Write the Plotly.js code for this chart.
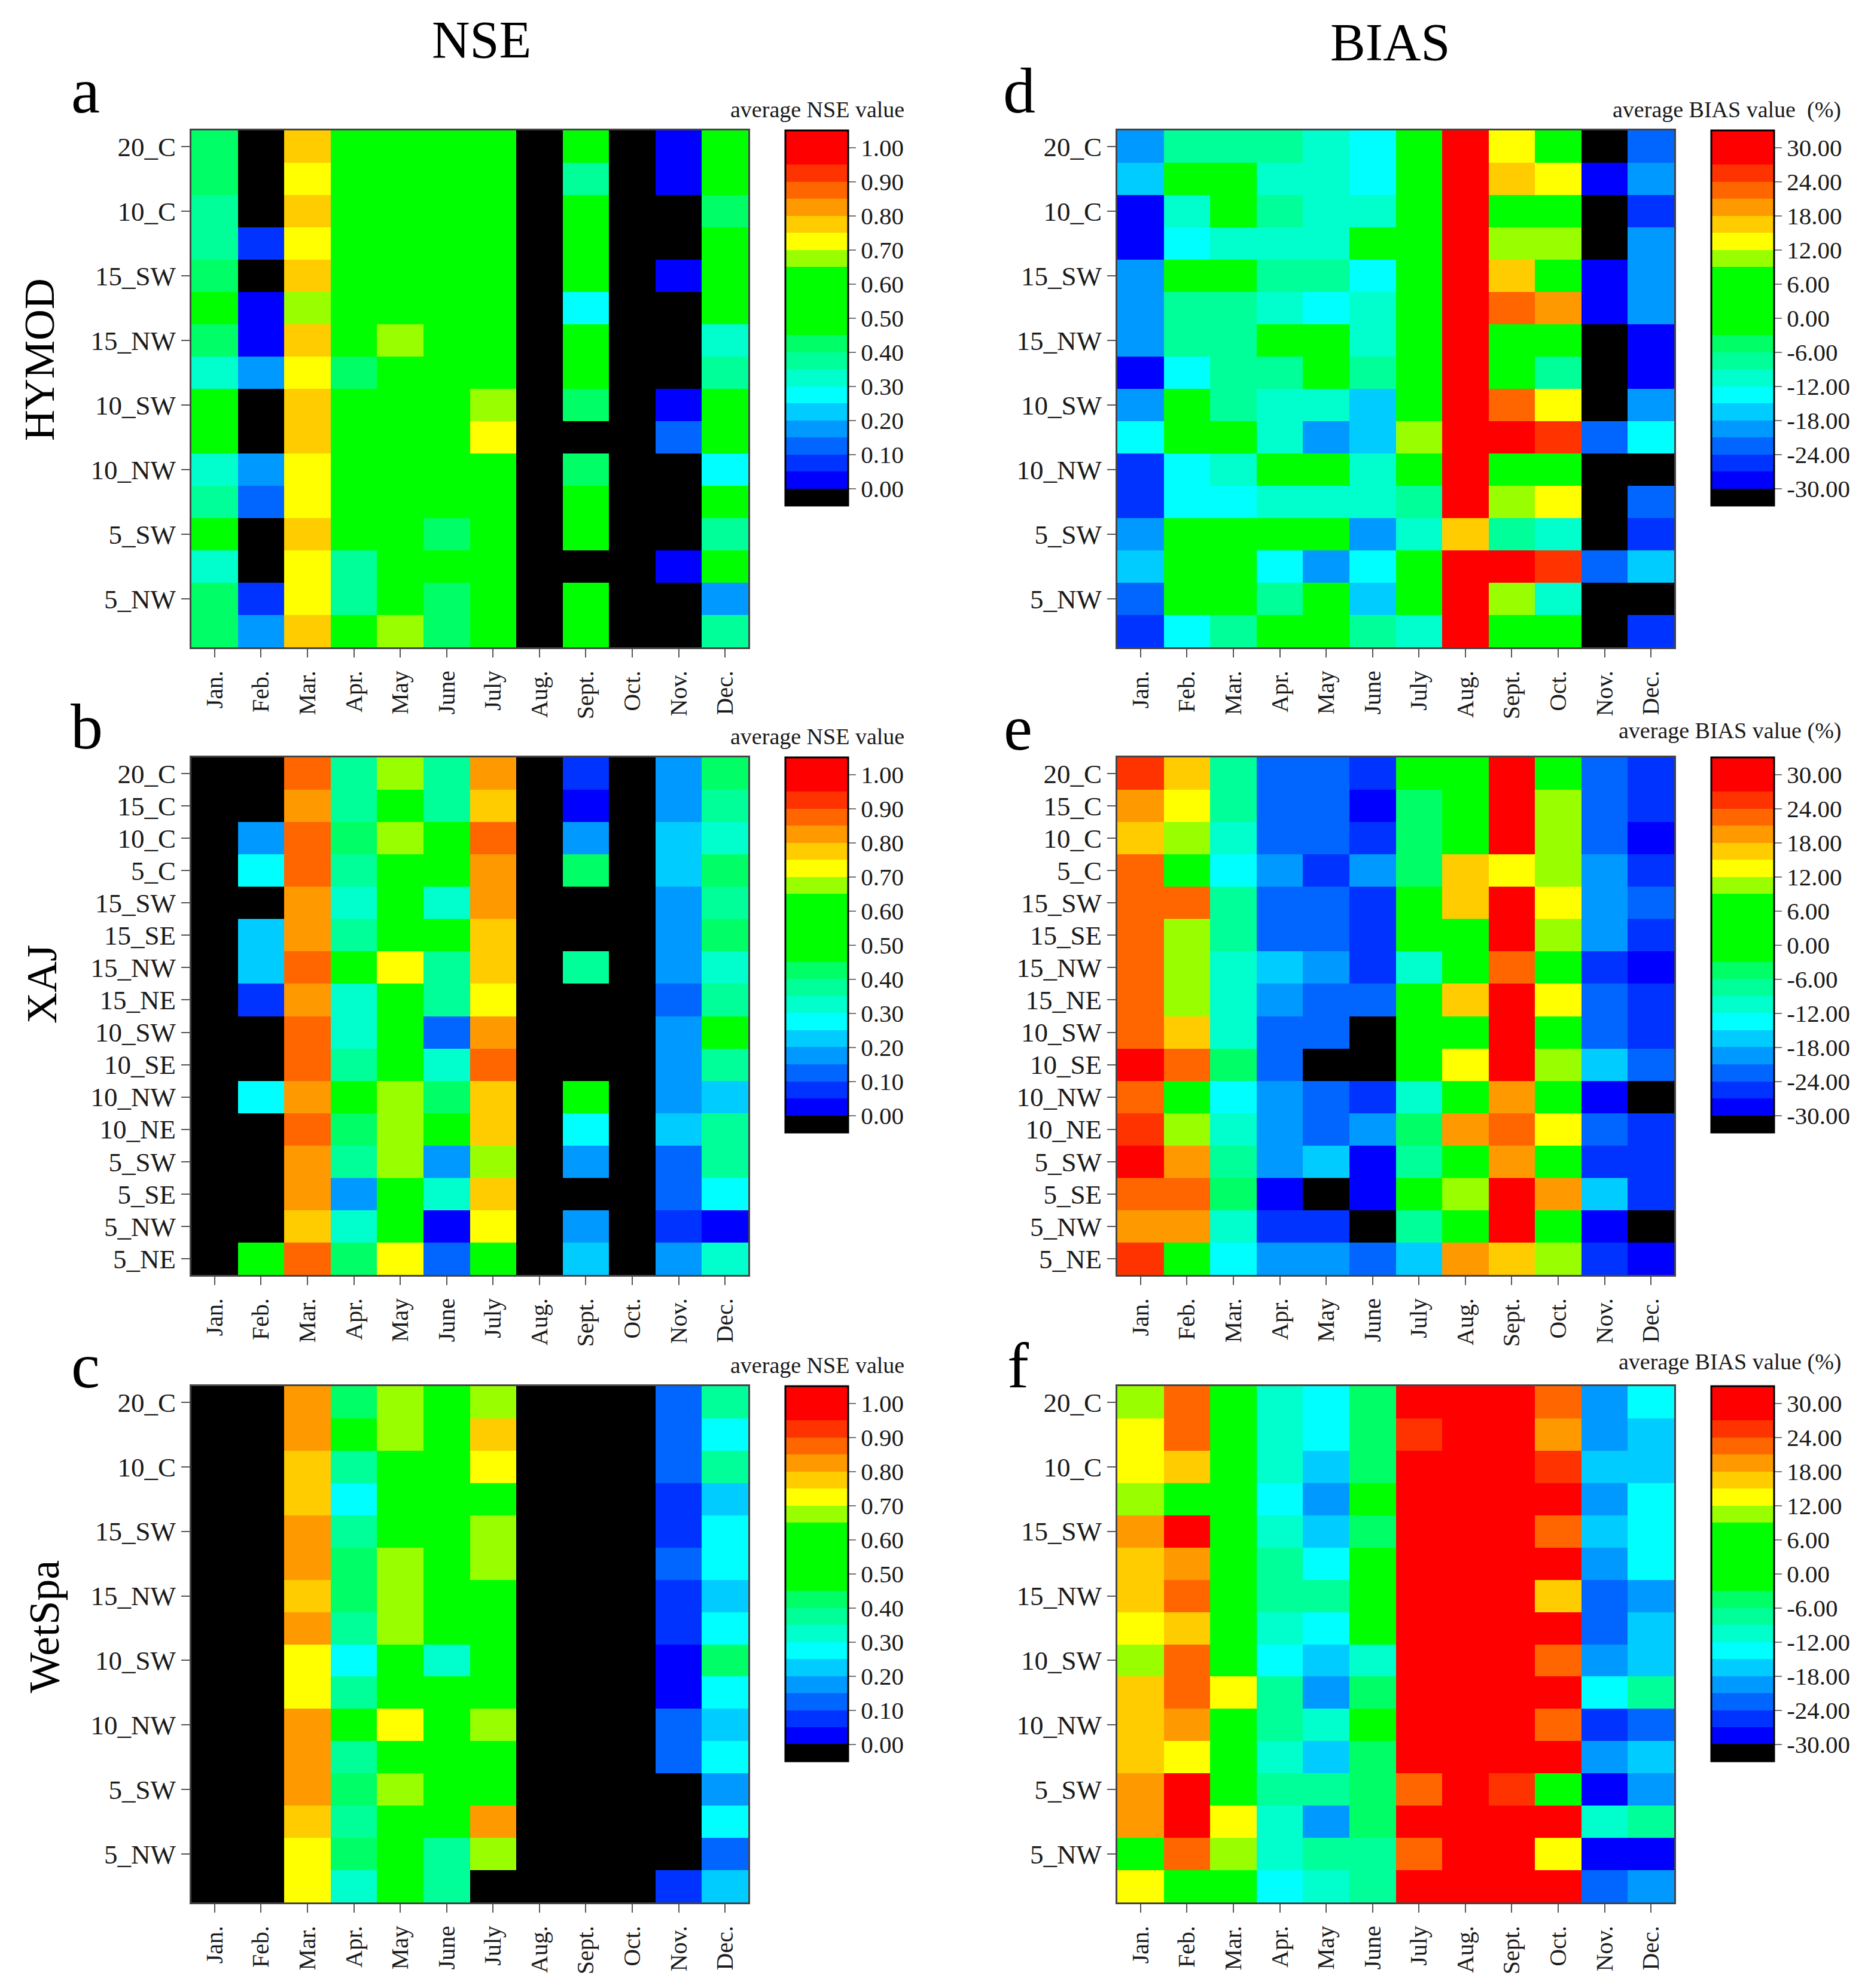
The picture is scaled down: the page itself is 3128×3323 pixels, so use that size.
<!DOCTYPE html>
<html><head><meta charset="utf-8">
<script src="https://cdn.plot.ly/plotly-3.0.1.min.js"></script>
<style>html,body{margin:0;padding:0;background:#fff}</style></head>
<body><div id="chart" style="width:3128px;height:3323px"></div>
<script>
const months = ['Jan.','Feb.','Mar.','Apr.','May','June','July','Aug.','Sept.','Oct.','Nov.','Dec.'];
const scenarios = ['20_C','15_C','10_C','5_C','15_SW','15_SE','15_NW','15_NE','10_SW','10_SE','10_NW','10_NE','5_SW','5_SE','5_NW','5_NE'];
const nseTicks = [0,0.1,0.2,0.3,0.4,0.5,0.6,0.7,0.8,0.9,1.0];
const biasTicks = [-30,-24,-18,-12,-6,0,6,12,18,24,30];

// one inner list per month, top row (20_C) to bottom row (5_NE)
const nseHymod = [
[.43,.43,.38,.38,.43,.55,.43,.33,.55,.55,.33,.38,.55,.33,.43,.43],
[-.02,-.02,-.02,.08,-.02,.03,.03,.18,-.02,-.02,.18,.13,-.02,-.02,.08,.18],
[.78,.73,.78,.73,.78,.68,.78,.73,.78,.78,.73,.73,.78,.73,.73,.78],
[.55,.55,.55,.55,.55,.55,.55,.43,.55,.55,.55,.55,.55,.38,.38,.55],
[.55,.55,.55,.55,.55,.55,.68,.55,.55,.55,.55,.55,.55,.55,.55,.68],
[.55,.55,.55,.55,.55,.55,.55,.55,.55,.55,.55,.55,.43,.55,.43,.43],
[.55,.55,.55,.55,.55,.55,.55,.55,.68,.73,.55,.55,.55,.55,.55,.55],
[-.02,-.02,-.02,-.02,-.02,-.02,-.02,-.02,-.02,-.02,-.02,-.02,-.02,-.02,-.02,-.02],
[.55,.38,.55,.55,.55,.28,.55,.55,.43,-.02,.43,.55,.55,-.02,.55,.55],
[-.02,-.02,-.02,-.02,-.02,-.02,-.02,-.02,-.02,-.02,-.02,-.02,-.02,-.02,-.02,-.02],
[.03,.03,-.02,-.02,.03,-.02,-.02,-.02,.03,.13,-.02,-.02,-.02,.03,-.02,-.02],
[.55,.55,.43,.55,.55,.55,.33,.38,.55,.55,.28,.55,.38,.55,.18,.38]];

const nseXaj = [
[-.02,-.02,-.02,-.02,-.02,-.02,-.02,-.02,-.02,-.02,-.02,-.02,-.02,-.02,-.02,-.02],
[-.02,-.02,.18,.28,-.02,.23,.23,.08,-.02,-.02,.28,-.02,-.02,-.02,-.02,.55],
[.88,.83,.88,.88,.83,.83,.88,.83,.88,.88,.83,.88,.83,.83,.78,.88],
[.38,.38,.43,.38,.33,.38,.55,.33,.33,.38,.55,.43,.38,.18,.33,.43],
[.68,.55,.68,.55,.55,.55,.73,.55,.55,.55,.68,.68,.68,.55,.55,.73],
[.38,.38,.55,.55,.33,.55,.38,.38,.13,.33,.43,.55,.18,.33,.03,.13],
[.83,.78,.88,.83,.83,.78,.78,.73,.83,.88,.78,.78,.68,.78,.73,.55],
[-.02,-.02,-.02,-.02,-.02,-.02,-.02,-.02,-.02,-.02,-.02,-.02,-.02,-.02,-.02,-.02],
[.08,.03,.18,.43,-.02,-.02,.38,-.02,-.02,-.02,.55,.28,.18,-.02,.18,.23],
[-.02,-.02,-.02,-.02,-.02,-.02,-.02,-.02,-.02,-.02,-.02,-.02,-.02,-.02,-.02,-.02],
[.18,.18,.23,.23,.18,.18,.18,.13,.18,.18,.18,.23,.13,.13,.08,.18],
[.43,.38,.33,.43,.38,.43,.33,.38,.55,.38,.23,.38,.38,.28,.03,.33]];

const nseWetspa = [
[-.02,-.02,-.02,-.02,-.02,-.02,-.02,-.02,-.02,-.02,-.02,-.02,-.02,-.02,-.02,-.02],
[-.02,-.02,-.02,-.02,-.02,-.02,-.02,-.02,-.02,-.02,-.02,-.02,-.02,-.02,-.02,-.02],
[.83,.83,.78,.78,.83,.83,.78,.83,.73,.73,.83,.83,.83,.78,.73,.73],
[.43,.55,.38,.28,.38,.43,.43,.38,.28,.38,.55,.38,.43,.38,.43,.33],
[.68,.68,.55,.55,.55,.68,.68,.68,.55,.55,.73,.55,.68,.55,.55,.55],
[.55,.55,.55,.55,.55,.55,.55,.55,.33,.55,.55,.55,.55,.55,.38,.38],
[.68,.78,.73,.55,.68,.68,.55,.55,.55,.55,.68,.55,.55,.83,.68,-.02],
[-.02,-.02,-.02,-.02,-.02,-.02,-.02,-.02,-.02,-.02,-.02,-.02,-.02,-.02,-.02,-.02],
[-.02,-.02,-.02,-.02,-.02,-.02,-.02,-.02,-.02,-.02,-.02,-.02,-.02,-.02,-.02,-.02],
[-.02,-.02,-.02,-.02,-.02,-.02,-.02,-.02,-.02,-.02,-.02,-.02,-.02,-.02,-.02,-.02],
[.13,.13,.13,.08,.08,.13,.08,.08,.03,.03,.13,.13,-.02,-.02,-.02,.08],
[.38,.28,.38,.23,.28,.28,.23,.28,.43,.28,.23,.28,.18,.28,.13,.23]];

const biasHymod = [
[-19,-16,-28,-28,-19,-19,-19,-28,-19,-13,-25,-25,-19,-16,-22,-25],
[-7,3,-10,-13,3,-7,-7,-13,3,3,-13,-13,3,3,3,-13],
[-7,3,3,-10,3,-7,-7,-7,-7,3,-10,-13,3,3,3,-7],
[-7,-10,-7,-10,-7,-10,3,-7,-10,-10,3,-10,3,-13,-7,3],
[-10,-10,-10,-10,-7,-13,3,3,-10,-19,3,-10,3,-19,3,3],
[-13,-13,-10,3,-13,-10,-10,-7,-16,-16,-10,-10,-19,-13,-16,-7],
[3,3,3,3,3,3,3,3,3,11,3,-7,-10,3,3,-10],
[31,31,31,31,31,31,31,31,31,31,31,31,17,31,31,31],
[14,17,3,11,17,23,3,3,23,31,3,11,-7,31,11,3],
[3,14,3,11,3,20,3,-7,14,26,3,14,-10,26,-10,3],
[-32,-28,-32,-32,-28,-28,-32,-32,-32,-22,-32,-32,-32,-22,-32,-32],
[-22,-19,-25,-19,-19,-19,-28,-28,-19,-13,-32,-22,-25,-16,-32,-25]];

const biasXaj = [
[26,20,17,23,23,23,23,23,23,31,23,26,31,23,20,26],
[17,14,11,3,23,11,11,11,17,23,3,11,20,23,20,3],
[-7,-7,-10,-13,-7,-7,-10,-10,-10,-4,-13,-10,-7,-4,-10,-13],
[-22,-22,-22,-19,-22,-22,-16,-19,-22,-22,-19,-19,-19,-28,-25,-19],
[-22,-22,-22,-25,-22,-22,-19,-22,-22,-32,-22,-22,-16,-32,-25,-19],
[-25,-28,-25,-19,-25,-25,-25,-22,-32,-32,-25,-19,-28,-28,-32,-22],
[3,-4,-4,-4,3,3,-10,3,3,3,-10,-4,-7,3,-7,-16],
[3,3,3,17,17,3,3,17,3,14,3,20,3,11,3,20],
[31,31,31,14,31,31,23,31,31,31,20,23,20,31,31,17],
[3,11,11,11,14,11,3,14,3,11,3,14,3,20,3,11],
[-22,-22,-22,-19,-19,-19,-25,-22,-22,-16,-28,-22,-25,-16,-28,-25],
[-25,-25,-28,-25,-22,-25,-28,-25,-25,-22,-32,-25,-25,-25,-32,-28]];

const biasWetspa = [
[11,14,14,11,20,17,17,14,11,17,17,17,20,20,3,14],
[23,23,17,3,31,20,23,17,23,23,20,14,31,31,23,3],
[3,3,3,3,3,3,3,3,3,14,3,3,3,14,11,3],
[-10,-10,-10,-13,-10,-7,-7,-10,-13,-7,-7,-10,-7,-10,-10,-13],
[-13,-13,-16,-19,-16,-13,-7,-13,-16,-19,-10,-16,-7,-19,-7,-10],
[-4,-4,-4,3,-4,3,3,3,-10,-4,3,-4,-4,-4,-7,-7],
[31,26,31,31,31,31,31,31,31,31,31,31,23,31,23,31],
[31,31,31,31,31,31,31,31,31,31,31,31,31,31,31,31],
[31,31,31,31,31,31,31,31,31,31,31,31,26,31,31,31],
[23,20,26,31,23,31,17,31,23,31,23,31,3,31,14,31],
[-19,-19,-16,-19,-16,-19,-22,-22,-19,-13,-25,-19,-28,-10,-28,-22],
[-13,-16,-16,-13,-13,-13,-19,-16,-16,-7,-22,-16,-19,-7,-28,-19]];

const bandColors = ['#000000','#0000ff','#0033ff','#0066ff','#0099ff','#00ccff','#00ffff','#00ffcc','#00ff99','#00ff66',
 '#00ff00','#00ff00','#00ff00','#00ff00','#99ff00','#ffff00','#ffcc00','#ff9900','#ff6600','#ff3300','#ff0000','#ff0000'];
const colorscale = [];
bandColors.forEach((c,i)=>{colorscale.push([i/bandColors.length,c]);colorscale.push([(i+1)/bandColors.length,c]);});

const W=3128,H=3323, serif='"Liberation Serif","Times New Roman",serif', ink='#1a1a1a';
const panels = [
 {z:nseHymod,  kind:'nse', x0:320, y0:218, y1:1082, cb:1313, letter:'a', lx:143, ly:187, note:'average NSE value', nx:1366, ny:183},
 {z:nseXaj,    kind:'nse', x0:320, y0:1266,y1:2131, cb:1313, letter:'b', lx:145, ly:1250,note:'average NSE value', nx:1366, ny:1231},
 {z:nseWetspa, kind:'nse', x0:320, y0:2317,y1:3180, cb:1313, letter:'c', lx:143, ly:2318,note:'average NSE value', nx:1366, ny:2282},
 {z:biasHymod, kind:'bias',x0:1868,y0:218, y1:1082, cb:2861, letter:'d', lx:1704,ly:187, note:'average BIAS value  (%)', nx:2887, ny:183},
 {z:biasXaj,   kind:'bias',x0:1868,y0:1266,y1:2131, cb:2861, letter:'e', lx:1702,ly:1252,note:'average BIAS value (%)', nx:2892, ny:1221},
 {z:biasWetspa,kind:'bias',x0:1868,y0:2317,y1:3180, cb:2861, letter:'f', lx:1702,ly:2318,note:'average BIAS value (%)', nx:2892, ny:2276}];
const PW=931, CBW=105, CBH=627;

const layout={width:W,height:H,margin:{l:0,r:0,t:0,b:0},paper_bgcolor:'#fff',plot_bgcolor:'#fff',showlegend:false,annotations:[]};
const traces=[];
function note(text,x,y,size,opts){layout.annotations.push(Object.assign({text,x:x/W,y:1-y/H,xref:'paper',yref:'paper',showarrow:false,
  xanchor:'center',yanchor:'middle',font:{family:serif,size,color:ink}},opts||{}));}

panels.forEach((p,i)=>{
 const s=i?String(i+1):'';
 const isN=p.kind==='nse';
 traces.push({type:'heatmap',z:p.z,transpose:true,x:months,y:scenarios,xaxis:'x'+s,yaxis:'y'+s,
  zmin:isN?-0.05:-33,zmax:isN?1.05:33,zauto:false,colorscale,xgap:0,ygap:0,hoverongaps:false,
  colorbar:{x:p.cb/W,xanchor:'left',xpad:0,y:1-(p.y0+CBH/2)/H,yanchor:'middle',ypad:0,len:CBH,lenmode:'pixels',thickness:CBW,thicknessmode:'pixels',
   tickmode:'array',tickvals:isN?nseTicks:biasTicks,ticktext:(isN?nseTicks:biasTicks).map(v=>v.toFixed(2)),ticks:'outside',ticklen:12,tickwidth:2,tickcolor:'#777',
   tickfont:{family:serif,size:41,color:ink},outlinewidth:3,outlinecolor:'#000',bordercolor:'rgba(0,0,0,0)',borderwidth:0}});
 const ax={showgrid:false,zeroline:false,showline:true,linecolor:'#444',linewidth:3,mirror:true,ticks:'outside',ticklen:14,tickwidth:2,tickcolor:'#555',anchor:'',automargin:false};
 layout['xaxis'+s]=Object.assign({},ax,{domain:[p.x0/W,(p.x0+PW)/W],anchor:'y'+s,type:'category',categoryorder:'array',categoryarray:months,
   tickangle:-90,tickfont:{family:serif,size:40,color:ink},ticklabelstandoff:6});
 layout['yaxis'+s]=Object.assign({},ax,{domain:[1-p.y1/H,1-p.y0/H],anchor:'x'+s,type:'category',categoryorder:'array',categoryarray:scenarios,
   autorange:'reversed',tickfont:{family:serif,size:45,color:ink}});
 note(p.letter,p.lx,p.ly+4,108,{yanchor:'bottom',yshift:-22,font:{family:serif,size:108,color:'#000'}});
 note(p.note,p.nx,p.ny,38);
});
note('NSE',805,66,88,{font:{family:serif,size:88,color:'#000'}});
note('BIAS',2324,70,88,{font:{family:serif,size:88,color:'#000'}});
note('HYMOD',66,601,72,{textangle:-90,font:{family:serif,size:72,color:'#000'}});
note('XAJ',70,1645,72,{textangle:-90,font:{family:serif,size:72,color:'#000'}});
note('WetSpa',74,2719,72,{textangle:-90,font:{family:serif,size:72,color:'#000'}});

Plotly.newPlot('chart',traces,layout,{staticPlot:true,displayModeBar:false});
</script></body></html>
